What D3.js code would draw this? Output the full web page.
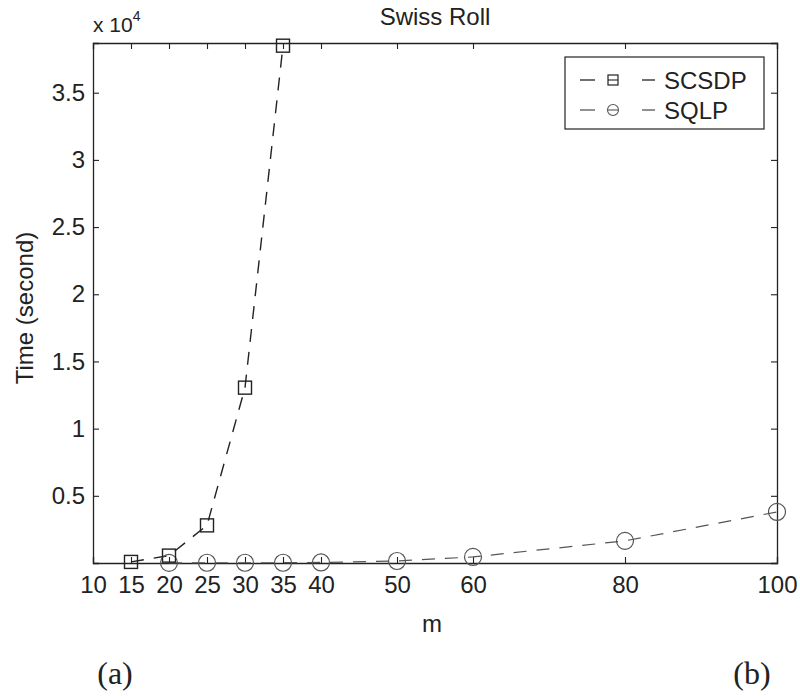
<!DOCTYPE html>
<html>
<head>
<meta charset="utf-8">
<script src="https://cdn.jsdelivr.net/npm/d3@7"></script>
<style>
  body { margin: 0; background: #fff; }
  text { font-family: Arimo, "Liberation Sans", Arial, sans-serif; fill: #222; }
</style>
</head>
<body>
<div id="chart"></div>
<script>
// data
var xTicks = [10, 15, 20, 25, 30, 35, 40, 50, 60, 80, 100]
var yTicks = [5000, 10000, 15000, 20000, 25000, 30000, 35000]
var yTickLabels = ["0.5", "1", "1.5", "2", "2.5", "3", "3.5"]

var scsdpM = [15, 20, 25, 30, 35]
var scsdpTime = [80, 550, 2800, 13050, 38500]

var sqlpM = [20, 25, 30, 35, 40, 50, 60, 80, 100]
var sqlpTime = [10, 20, 20, 20, 40, 150, 450, 1650, 3800]

var width = 800, height = 696
var margin = {top: 43, right: 23, bottom: 133, left: 93}
var w = width - margin.left - margin.right,
    h = height - margin.top - margin.bottom

var svg = d3.select("#chart").append("svg")
  .attr("width", width)
  .attr("height", height)

var g = svg.append("g")
  .attr("transform", "translate(" + margin.left + "," + margin.top + ")")

var x = d3.scaleLinear().domain([10, 100]).range([0, w])
var y = d3.scaleLinear().domain([0, 38700]).range([h, 0])

// axes, matlab style: inward ticks on all four sides
var tickLen = 6
var axBottom = g.append("g")
  .attr("transform", "translate(0," + h + ")")
  .call(d3.axisBottom(x).tickValues(xTicks).tickSize(-tickLen).tickPadding(13).tickFormat(d3.format("d")))
var axTop = g.append("g")
  .call(d3.axisTop(x).tickValues(xTicks).tickSize(-tickLen).tickFormat(""))
var axLeft = g.append("g")
  .call(d3.axisLeft(y).tickValues(yTicks).tickSize(-tickLen).tickPadding(8)
    .tickFormat(function(d, i) { return yTickLabels[i] }))
var axRight = g.append("g")
  .attr("transform", "translate(" + w + ",0)")
  .call(d3.axisRight(y).tickValues(yTicks).tickSize(-tickLen).tickFormat(""))

;[axBottom, axTop, axLeft, axRight].forEach(function(a) {
  a.select(".domain").attr("stroke", "#222").attr("stroke-width", 1.3)
  a.selectAll(".tick line").attr("stroke", "#222").attr("stroke-width", 1.1)
  a.selectAll("text").attr("font-size", 24).attr("fill", "#222")
    .style("font-family", "Arimo, 'Liberation Sans', Arial, sans-serif")
})

// lines
var lineGen = d3.line()
  .x(function(d) { return x(d[0]) })
  .y(function(d) { return y(d[1]) })

var scsdp = d3.zip(scsdpM, scsdpTime)
var sqlp = d3.zip(sqlpM, sqlpTime)

g.append("path")
  .datum(sqlp)
  .attr("fill", "none")
  .attr("stroke", "#555")
  .attr("stroke-width", 1.2)
  .attr("stroke-dasharray", "13,10")
  .attr("d", lineGen)

g.append("path")
  .datum(scsdp)
  .attr("fill", "none")
  .attr("stroke", "#222")
  .attr("stroke-width", 1.4)
  .attr("stroke-dasharray", "13,10")
  .attr("d", lineGen)

// markers
g.selectAll(".circ")
  .data(sqlp)
  .enter()
  .append("circle")
    .attr("cx", function(d) { return x(d[0]) })
    .attr("cy", function(d) { return y(d[1]) })
    .attr("r", 8.5)
    .attr("fill", "none")
    .attr("stroke", "#555")
    .attr("stroke-width", 1.2)

g.selectAll(".sq")
  .data(scsdp)
  .enter()
  .append("rect")
    .attr("x", function(d) { return x(d[0]) - 6.5 })
    .attr("y", function(d) { return y(d[1]) - 6.5 })
    .attr("width", 13)
    .attr("height", 13)
    .attr("fill", "none")
    .attr("stroke", "#222")
    .attr("stroke-width", 1.4)

// legend
var legend = g.append("g").attr("transform", "translate(" + (w - 212) + ",14)")
legend.append("rect")
  .attr("width", 199).attr("height", 72)
  .attr("fill", "#fff").attr("stroke", "#222").attr("stroke-width", 1.2)

var legendItems = [
  {name: "SCSDP", color: "#222", shape: "square"},
  {name: "SQLP", color: "#555", shape: "circle"}
]
legendItems.forEach(function(item, i) {
  var yy = 23 + i * 30
  var row = legend.append("g").attr("transform", "translate(0," + yy + ")")
  row.append("line").attr("x1", 15).attr("x2", 30).attr("stroke", item.color).attr("stroke-width", 1.3)
  row.append("line").attr("x1", 77).attr("x2", 90).attr("stroke", item.color).attr("stroke-width", 1.3)
  row.append("line").attr("x1", 43).attr("x2", 53).attr("stroke", item.color).attr("stroke-width", 1.1)
  if (item.shape == "square") {
    row.append("rect").attr("x", 43).attr("y", -5).attr("width", 10).attr("height", 10)
      .attr("fill", "none").attr("stroke", item.color).attr("stroke-width", 1.2)
  } else {
    row.append("circle").attr("cx", 48).attr("r", 5.5)
      .attr("fill", "none").attr("stroke", item.color).attr("stroke-width", 1.1)
  }
  row.append("text").attr("x", 99).attr("y", 8.5).attr("font-size", 24).text(item.name)
})

// titles and labels
svg.append("text")
  .attr("x", margin.left + w / 2).attr("y", 25)
  .attr("text-anchor", "middle").attr("font-size", 24)
  .text("Swiss Roll")

var mult = svg.append("text").attr("x", margin.left).attr("y", 32).attr("font-size", 21)
mult.append("tspan").text("x 10")
mult.append("tspan").attr("dy", -11).attr("font-size", 14).text("4")

svg.append("text")
  .attr("x", margin.left + w / 2 - 3).attr("y", 632)
  .attr("text-anchor", "middle").attr("font-size", 24)
  .text("m")

svg.append("text")
  .attr("transform", "translate(33,308) rotate(-90)")
  .attr("text-anchor", "middle").attr("font-size", 24)
  .text("Time (second)")

svg.append("text")
  .attr("x", 115).attr("y", 684).attr("text-anchor", "middle")
  .style("font-family", "'Liberation Serif', 'DejaVu Serif', serif").attr("font-size", 32)
  .text("(a)")
svg.append("text")
  .attr("x", 752).attr("y", 684).attr("text-anchor", "middle")
  .style("font-family", "'Liberation Serif', 'DejaVu Serif', serif").attr("font-size", 32)
  .text("(b)")
</script>
</body>
</html>
